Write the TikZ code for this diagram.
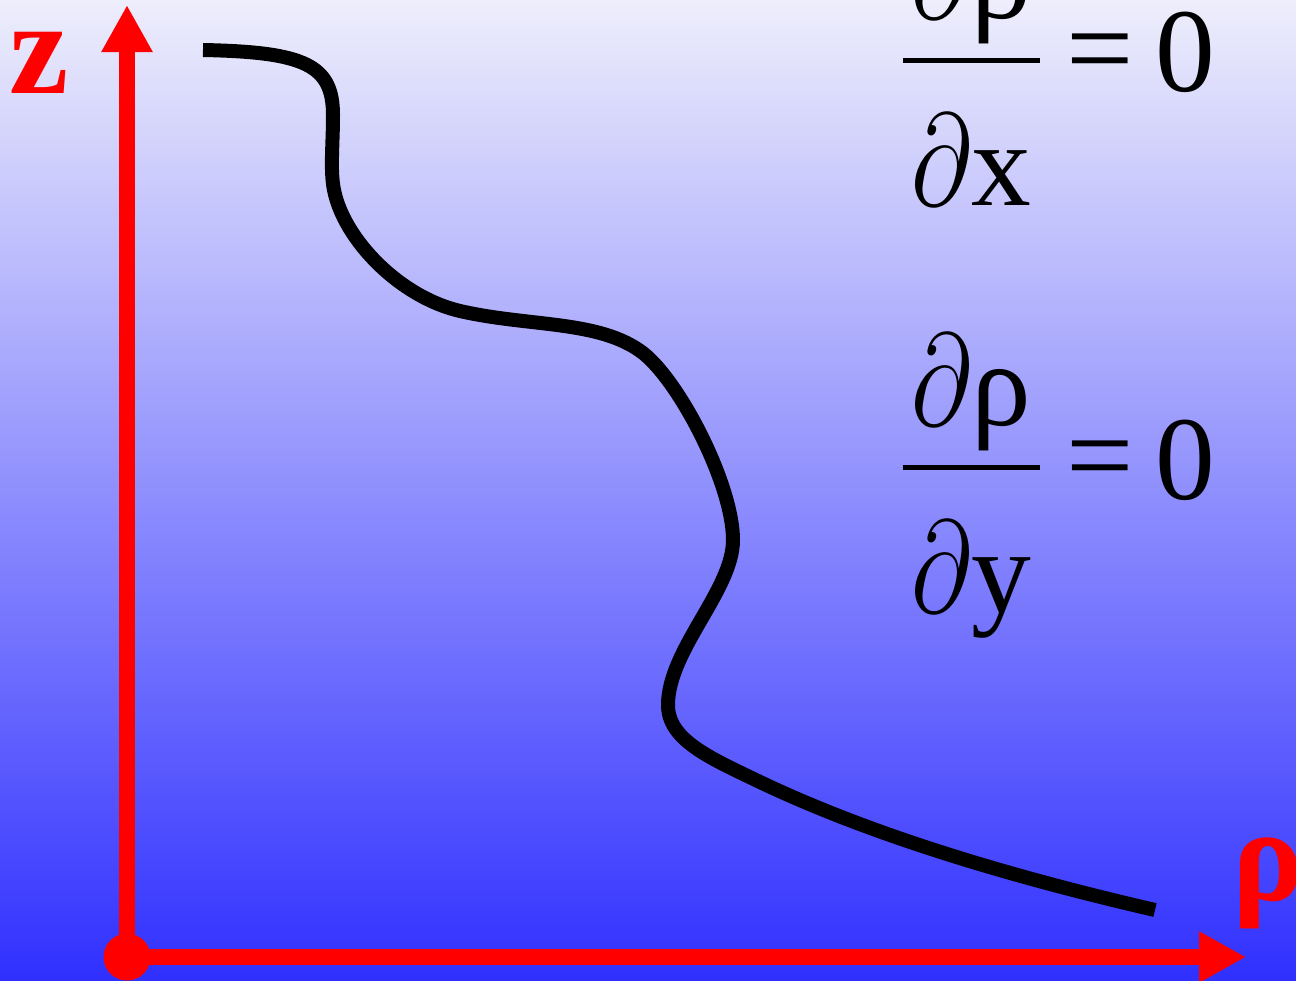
\documentclass[tikz,border=0pt]{standalone}
\usepackage{fontspec}
\setmainfont{Liberation Serif}
\usepackage{tikz}
\usetikzlibrary{arrows.meta, positioning}
\definecolor{bgtop}{RGB}{238,238,252}
\definecolor{bgbot}{RGB}{48,48,255}
\tikzstyle{axis} = [red, line width=0.16cm, -{Triangle[length=0.47cm,width=0.48cm]}]
\tikzstyle{lab} = [red, inner sep=0pt, font=\fontsize{38}{40}\selectfont\bfseries]
\newcommand{\dd}{\scalebox{1.2}[1.5]{$\partial$}}

\begin{document}
\begin{tikzpicture}[
        eqtext/.style={inner sep=0pt, anchor=base, font=\fontsize{34}{40}\selectfont},
        eqsign/.style={inner sep=0pt, font=\fontsize{34}{40}\selectfont},
        fracbar/.style={line width=0.05cm},
        profile/.style={line width=0.14cm, black}
    ]
    \useasboundingbox (0,0) rectangle (12.96,9.8);
    \clip (0,0) rectangle (12.96,9.8);
    \shade [top color=bgtop, bottom color=bgbot] (0,0) rectangle (12.96,9.8);
    % axes
    \coordinate (O)    at (1.27,0.23);
    \coordinate (ztip) at (1.27,9.75);
    \coordinate (rtip) at (12.46,0.23);
    \draw [axis] (O) -- (ztip);
    \draw [axis] (O) -- (rtip);
    \fill [red] (O) circle (0.235);
    \node (zlab)   [lab] at (0.39,9.17) {z};
    \node (rholab) [lab] at (12.68,0.97) {ρ};
    % density profile
    \draw [profile] (2.03,9.30)
        .. controls (3.05,9.28) and (3.33,9.15) .. (3.33,8.65)
        .. controls (3.33,8.35) and (3.30,8.10) .. (3.34,7.90)
        .. controls (3.44,7.40) and (4.00,6.83) .. (4.60,6.69)
        .. controls (5.30,6.53) and (6.00,6.60) .. (6.43,6.27)
        .. controls (6.80,5.98) and (7.33,4.95) .. (7.33,4.40)
        .. controls (7.33,3.90) and (6.68,3.30) .. (6.68,2.75)
        .. controls (6.68,2.40) and (7.10,2.22) .. (7.60,1.98)
        .. controls (8.40,1.60) and (9.60,1.15) .. (11.55,0.70);
    % d rho / dx = 0
    \node (num1)  [eqtext] at (9.71,9.62) {\dd ρ};
    \node (den1)  [eqtext] at (9.71,7.75) {\dd x};
    \coordinate (bar1l) at (9.03,9.20);
    \coordinate (bar1r) at (10.40,9.20);
    \draw [fracbar] (bar1l) -- (bar1r);
    \node (eq1)   [eqsign] at (11.00,9.19) {=};
    \node (zero1) [eqsign] at (11.85,9.28) {0};
    % d rho / dy = 0
    \node (num2)  [eqtext] at (9.71,5.55) {\dd ρ};
    \node (den2)  [eqtext] at (9.71,3.68) {\dd y};
    \coordinate (bar2l) at (9.03,5.13);
    \coordinate (bar2r) at (10.40,5.13);
    \draw [fracbar] (bar2l) -- (bar2r);
    \node (eq2)   [eqsign] at (11.00,5.12) {=};
    \node (zero2) [eqsign] at (11.85,5.20) {0};
\end{tikzpicture}
\end{document}
